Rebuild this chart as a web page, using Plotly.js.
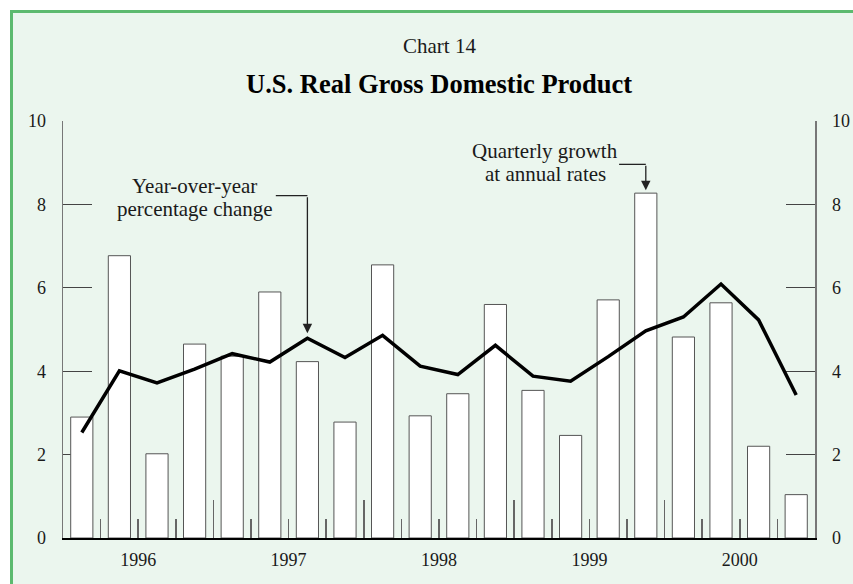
<!DOCTYPE html>
<html>
<head>
<meta charset="utf-8">
<script src="https://cdn.plot.ly/plotly-3.0.1.min.js"></script>
<style>
  html, body { margin:0; padding:0; background:#ffffff; overflow:hidden; }
  #frame { position:absolute; left:10px; top:10px; width:900px; height:640px;
           background:#EBF6EE; border-left:3.5px solid #5CBA6F; border-top:3.5px solid #5CBA6F; }
  #chart { position:absolute; left:0; top:0; width:853px; height:584px; }
</style>
</head>
<body>
<div id="frame"></div>
<div id="chart"></div>
<script>
// ---- data ----
const quarters = ['1996Q1','1996Q2','1996Q3','1996Q4',
                  '1997Q1','1997Q2','1997Q3','1997Q4',
                  '1998Q1','1998Q2','1998Q3','1998Q4',
                  '1999Q1','1999Q2','1999Q3','1999Q4',
                  '2000Q1','2000Q2','2000Q3','2000Q4'];
// Quarterly growth at annual rates (bars)
const quarterlyGrowth = [2.90, 6.77, 2.02, 4.65,
                         4.36, 5.90, 4.23, 2.78,
                         6.55, 2.93, 3.46, 5.60,
                         3.54, 2.46, 5.71, 8.27,
                         4.82, 5.64, 2.20, 1.04];
// Year-over-year percentage change (line)
const yearOverYear = [2.53, 4.01, 3.72, 4.05,
                      4.42, 4.22, 4.79, 4.33,
                      4.86, 4.12, 3.92, 4.62,
                      3.88, 3.76, 4.35, 4.97,
                      5.30, 6.09, 5.23, 3.43];
const years = ['1996','1997','1998','1999','2000'];
const yTicks = [0, 2, 4, 6, 8, 10];

// ---- derived positions ----
const idx = quarters.map((q, i) => i);
const yearOf = i => quarters[i].slice(0, 4);
const yearCenters = years.map(y => {
  const ii = idx.filter(i => yearOf(i) === y);
  return ii.reduce((a, b) => a + b, 0) / ii.length;
});
const bounds = idx.slice(0, -1).map(i => i + 0.5);
const quarterBounds = bounds.filter(b => yearOf(Math.floor(b)) === yearOf(Math.ceil(b)));
const yearBounds = bounds.filter(b => yearOf(Math.floor(b)) !== yearOf(Math.ceil(b)));
const xRange = [-0.5, quarters.length - 0.5];

const serif = 'Liberation Serif, Times New Roman, serif';
const ink = '#1a1a1a';

const traces = [
  { type:'bar', x:idx, y:quarterlyGrowth, width:0.59,
    marker:{ color:'#ffffff', line:{ color:'#555555', width:1 } },
    hoverinfo:'skip', showlegend:false },
  { type:'scatter', mode:'lines', x:idx, y:yearOverYear,
    line:{ color:'#000000', width:3.5 }, hoverinfo:'skip', showlegend:false },
  { type:'scatter', mode:'markers', x:quarterBounds, y:quarterBounds.map(() => 0),
    xaxis:'x2', marker:{ opacity:0 }, hoverinfo:'skip', showlegend:false },
  { type:'scatter', mode:'markers', x:yearBounds, y:yearBounds.map(() => 0),
    xaxis:'x3', marker:{ opacity:0 }, hoverinfo:'skip', showlegend:false },
  { type:'scatter', mode:'markers', x:[0], y:[0],
    yaxis:'y2', marker:{ opacity:0 }, hoverinfo:'skip', showlegend:false }
];

const yoyIdx = quarters.indexOf('1997Q3');
const qIdx = quarters.indexOf('1999Q4');

const yAxisBase = {
  range:[0, 10], tickvals:yTicks, ticks:'inside', ticklen:29, tickcolor:'#444', tickwidth:1.2,
  showline:true, linecolor:'#777', linewidth:1.5, showgrid:false, zeroline:false,
  tickfont:{ family:serif, size:18, color:ink }, ticklabelstandoff:12, fixedrange:true,
  layer:'below traces'
};
const xTickAxis = {
  overlaying:'x', anchor:'y', side:'bottom', range:xRange, ticks:'inside', tickcolor:'#666',
  tickwidth:1.5, showticklabels:false, showline:false, showgrid:false, zeroline:false, fixedrange:true
};

const noteFont = { family:serif, size:21, color:ink };

const layout = {
  width:853, height:584,
  margin:{ l:63, r:38, t:121, b:46 },
  paper_bgcolor:'rgba(0,0,0,0)', plot_bgcolor:'rgba(0,0,0,0)',
  showlegend:false,
  xaxis:{ range:xRange, tickvals:yearCenters, ticktext:years, ticks:'',
          showline:true, linecolor:'#000', linewidth:2, showgrid:false, zeroline:false,
          tickfont:{ family:serif, size:18, color:ink }, ticklabelstandoff:4, fixedrange:true },
  xaxis2:Object.assign({}, xTickAxis, { tickvals:quarterBounds, ticklen:19 }),
  xaxis3:Object.assign({}, xTickAxis, { tickvals:yearBounds, ticklen:38 }),
  yaxis:Object.assign({}, yAxisBase, { side:'left' }),
  yaxis2:Object.assign({}, yAxisBase, { side:'right', overlaying:'y', anchor:'x' }),
  shapes:[
    { type:'line', xref:'x', yref:'y', x0:5.16, x1:yoyIdx, y0:8.21, y1:8.21,
      line:{ color:'#222', width:1.3 } },
    { type:'line', xref:'x', yref:'y', x0:14.29, x1:qIdx, y0:8.96, y1:8.96,
      line:{ color:'#222', width:1.3 } }
  ],
  annotations:[
    { text:'Chart 14', xref:'paper', yref:'paper', x:0.5, y:1.181, showarrow:false,
      xanchor:'center', yanchor:'middle', font:{ family:serif, size:21, color:ink } },
    { text:'<b>U.S. Real Gross Domestic Product</b>', xref:'paper', yref:'paper', x:0.5, y:1.088,
      showarrow:false, xanchor:'center', yanchor:'middle', font:{ family:serif, size:26.5, color:'#000' } },
    { text:'Year-over-year', xref:'x', yref:'y', x:3.0, y:8.45,
      showarrow:false, xanchor:'center', yanchor:'middle', font:noteFont },
    { text:'percentage change', xref:'x', yref:'y', x:3.0, y:7.90,
      showarrow:false, xanchor:'center', yanchor:'middle', font:noteFont },
    { text:'Quarterly growth', xref:'x', yref:'y', x:12.32, y:9.29,
      showarrow:false, xanchor:'center', yanchor:'middle', font:noteFont },
    { text:'at annual rates', xref:'x', yref:'y', x:12.32, y:8.74,
      showarrow:false, xanchor:'center', yanchor:'middle', font:noteFont },
    { text:'', xref:'x', yref:'y', x:yoyIdx, y:yearOverYear[yoyIdx] + 0.12,
      axref:'x', ayref:'y', ax:yoyIdx, ay:8.21, showarrow:true,
      arrowhead:2, arrowsize:1.45, arrowwidth:1.3, arrowcolor:'#222', standoff:0 },
    { text:'', xref:'x', yref:'y', x:qIdx, y:quarterlyGrowth[qIdx] + 0.07,
      axref:'x', ayref:'y', ax:qIdx, ay:8.96, showarrow:true,
      arrowhead:2, arrowsize:1.45, arrowwidth:1.3, arrowcolor:'#222', standoff:0 }
  ]
};

Plotly.newPlot('chart', traces, layout, { staticPlot:true, displayModeBar:false });
</script>
</body>
</html>
